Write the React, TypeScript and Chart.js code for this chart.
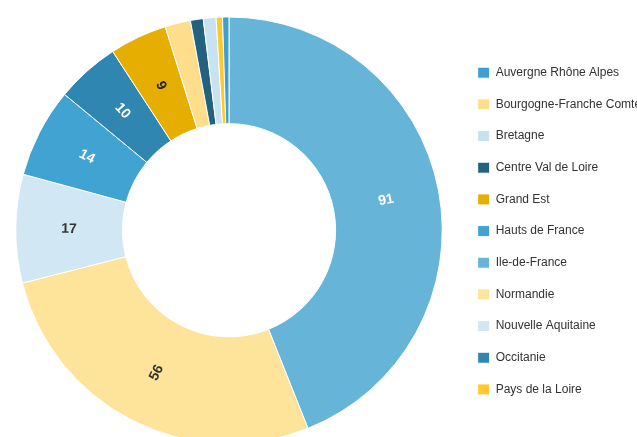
import React, { useEffect, useRef } from "react";
import { Chart, registerables } from "chart.js";

Chart.register(...registerables);

const regions = [
  "Ile-de-France",
  "Normandie",
  "Nouvelle Aquitaine",
  "Hauts de France",
  "Occitanie",
  "Grand Est",
  "Bourgogne-Franche Comté",
  "Centre Val de Loire",
  "Bretagne",
  "Pays de la Loire",
  "Auvergne Rhône Alpes",
];
const counts = [91, 56, 17, 14, 10, 9, 4, 2, 2, 1, 1];
const sliceColors = [
  "#67b4d9",
  "#fee39b",
  "#d1e8f4",
  "#41a3d1",
  "#2e86b1",
  "#e6ae00",
  "#fede8a",
  "#23627f",
  "#c7e3f2",
  "#fec82e",
  "#3f9fd0",
];
const labelColors = ["#ffffff", "#333333", "#333333", "#ffffff", "#ffffff", "#222222", "#333333", "#333333", "#333333", "#333333", "#333333"];
const minLabelValue = 5;

const sliceLabels = {
  id: "sliceLabels",
  afterDatasetsDraw(chart: any) {
    const ctx = chart.ctx;
    const meta = chart.getDatasetMeta(0);
    const data = chart.data.datasets[0].data as number[];
    ctx.save();
    ctx.font = 'bold 14px "Liberation Sans", Arial, sans-serif';
    ctx.textAlign = "center";
    ctx.textBaseline = "middle";
    meta.data.forEach((arc: any, i: number) => {
      if (data[i] < minLabelValue) return;
      const p = arc.getProps(["x", "y", "startAngle", "endAngle", "innerRadius", "outerRadius"], true);
      const mid = (p.startAngle + p.endAngle) / 2;
      const r = (p.innerRadius + p.outerRadius) / 2;
      const x = p.x + Math.cos(mid) * r;
      const y = p.y + Math.sin(mid) * r;
      const twoPi = Math.PI * 2;
      let rot = ((mid % twoPi) + twoPi) % twoPi;
      if (rot > Math.PI / 2 && rot < (3 * Math.PI) / 2) rot -= Math.PI;
      ctx.save();
      ctx.translate(x, y);
      ctx.rotate(rot);
      ctx.fillStyle = labelColors[i];
      ctx.fillText(String(data[i]), 0, 0);
      ctx.restore();
    });
    ctx.restore();
  },
};

export default function App() {
  const ref = useRef<HTMLCanvasElement | null>(null);
  useEffect(() => {
    if (!ref.current) return;
    const chart = new Chart(ref.current, {
      type: "doughnut",
      data: {
        labels: regions,
        datasets: [
          {
            data: counts,
            backgroundColor: sliceColors,
            borderColor: "#ffffff",
            borderWidth: 1,
            hoverOffset: 0,
            offset: 0,
          },
        ],
      },
      options: {
        responsive: false,
        animation: false,
        cutout: "50%",
        layout: { padding: { left: 0, right: 0, top: 16.5, bottom: 17 } },
        plugins: {
          tooltip: { enabled: false },
          legend: {
            position: "right",
            maxWidth: 184,
            title: { display: true, text: "", padding: 0, font: { size: 1.6, lineHeight: 1 } },
            labels: {
              boxWidth: 12,
              boxHeight: 11,
              padding: 19.67,
              color: "#333333",
              font: { family: '"Liberation Sans", Arial, sans-serif', size: 12 },
              sort: (a: any, b: any) => a.text.localeCompare(b.text, "fr"),
            },
          },
        },
      },
      plugins: [sliceLabels],
    });
    return () => chart.destroy();
  }, []);
  return (
    <div style={{ position: "absolute", left: 0, top: 0, width: 637, height: 437, overflow: "hidden", background: "#fff" }}>
      <canvas ref={ref} width={642} height={461} style={{ display: "block" }} />
    </div>
  );
}
